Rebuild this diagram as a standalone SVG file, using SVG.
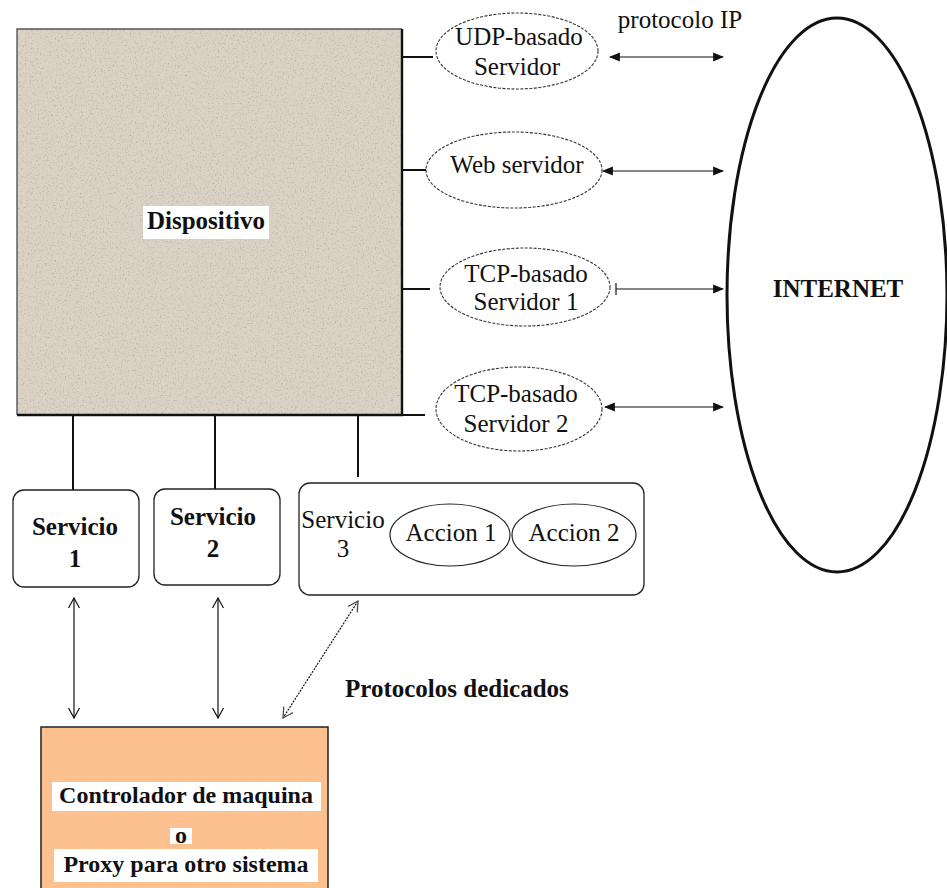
<svg xmlns="http://www.w3.org/2000/svg" width="947" height="888" viewBox="0 0 947 888" font-family="'Liberation Serif', 'Times New Roman', 'DejaVu Serif', serif">
  <style>
    text { font-family: 'Liberation Serif', 'Times New Roman', 'DejaVu Serif', serif; font-size: 25px; fill: #111; }
    .b { font-weight: bold; }
    .c { text-anchor: middle; }
    .sm { font-size: 24px; }
    .srv { fill: #fff; stroke: #333; stroke-width: 1.1; stroke-dasharray: 3 1.5; }
    .act { fill: #fff; stroke: #222; stroke-width: 1.2; }
    .box { fill: #fff; stroke: #222; stroke-width: 1.3; }
    .wire { stroke: #111; stroke-width: 2; fill: none; }
    .ip { stroke: #111; stroke-width: 1.2; fill: none; }
    .io { stroke: #111; stroke-width: 1.2; fill: none; }
    .lbl { fill: #fff; }
  </style>
  <defs>
    <!-- speckled stone finish for the device panel -->
    <filter id="grain" x="0" y="0" width="100%" height="100%">
      <feTurbulence type="fractalNoise" baseFrequency="0.6" numOctaves="2" seed="4" result="n"/>
      <feColorMatrix in="n" type="matrix" values="0 0 0 0 0.5  0 0 0 0 0.45  0 0 0 0 0.4  3 0 0 0 -1.6" result="d"/>
      <feComposite in="d" in2="SourceGraphic" operator="in" result="dots"/>
      <feMerge><feMergeNode in="SourceGraphic"/><feMergeNode in="dots"/></feMerge>
    </filter>
    <marker id="tri" viewBox="0 0 10 10" refX="9" refY="5" markerWidth="11" markerHeight="11" markerUnits="userSpaceOnUse" orient="auto-start-reverse">
      <path d="M0,1 L10,5 L0,9 z" fill="#111"/>
    </marker>
    <marker id="bar" viewBox="0 0 4 12" refX="1" refY="6" markerWidth="4" markerHeight="12" markerUnits="userSpaceOnUse" orient="auto">
      <path d="M1,0 V12" stroke="#111" stroke-width="1.2"/>
    </marker>
    <marker id="vee" viewBox="0 0 12 12" refX="11" refY="6" markerWidth="12" markerHeight="12" markerUnits="userSpaceOnUse" orient="auto-start-reverse">
      <path d="M1,0.5 L11,6 L1,11.5" fill="none" stroke="#111" stroke-width="1.2"/>
    </marker>
    <marker id="veeg" viewBox="0 0 12 12" refX="11" refY="6" markerWidth="12" markerHeight="12" markerUnits="userSpaceOnUse" orient="auto-start-reverse">
      <path d="M1,0.5 L11,6 L1,11.5" fill="none" stroke="#444" stroke-width="1.2"/>
    </marker>
  </defs>

  <rect width="947" height="888" fill="#fff"/>

  <!-- connectors -->
  <g id="connectors">
    <!-- device to servers -->
    <line class="wire" x1="402" y1="57" x2="433" y2="57" stroke-width="1.5"/>
    <line class="wire" x1="402" y1="170" x2="427" y2="170"/>
    <line class="wire" x1="402" y1="289" x2="430" y2="289"/>
    <line class="wire" x1="402" y1="415" x2="425" y2="415" stroke-width="1.5"/>
    <!-- servers to internet -->
    <line class="ip" x1="610" y1="57" x2="723" y2="57" marker-start="url(#tri)" marker-end="url(#tri)"/>
    <line class="ip" x1="603" y1="171" x2="723" y2="171" stroke-width="2.2" marker-start="url(#tri)" marker-end="url(#tri)"/>
    <line class="ip" x1="616" y1="289" x2="723" y2="289" marker-start="url(#bar)" marker-end="url(#tri)"/>
    <line class="ip" x1="605" y1="407" x2="723" y2="407" stroke-width="1.6" marker-start="url(#tri)" marker-end="url(#tri)"/>
    <!-- device to services -->
    <line class="wire" x1="73" y1="415" x2="73" y2="490" stroke-width="1.8"/>
    <line class="wire" x1="215" y1="415" x2="215" y2="489" stroke-width="1.8"/>
    <line class="wire" x1="358" y1="415" x2="358" y2="477" stroke-width="1.3"/>
    <!-- services to controller -->
    <line class="io" x1="74" y1="598" x2="74" y2="718" marker-start="url(#vee)" marker-end="url(#vee)"/>
    <line class="io" x1="218" y1="598" x2="218" y2="718" marker-start="url(#vee)" marker-end="url(#vee)"/>
    <line class="io" x1="358" y1="601" x2="283" y2="718" stroke="#444" stroke-dasharray="2 1.2" marker-start="url(#veeg)" marker-end="url(#veeg)"/>
  </g>

  <!-- device -->
  <g id="dispositivo">
    <rect x="17" y="29" width="385" height="386" fill="#dbd2c6" filter="url(#grain)"/>
    <path d="M17,415 V29 H402" fill="none" stroke="#555" stroke-width="1.4"/>
    <path d="M402,29 V415 H17" fill="none" stroke="#111" stroke-width="2.4"/>
    <rect class="lbl" x="143" y="206" width="126" height="33"/>
    <text class="b c" x="206" y="229">Dispositivo</text>
  </g>

  <!-- servers -->
  <g id="udp">
    <ellipse class="srv" cx="517" cy="51" rx="81" ry="38"/>
    <text class="c" x="519" y="45">UDP-basado</text>
    <text class="c" x="517" y="75">Servidor</text>
  </g>
  <g id="web">
    <ellipse class="srv" cx="514" cy="170" rx="88" ry="38"/>
    <text class="c" x="517" y="173">Web servidor</text>
  </g>
  <g id="tcp1">
    <ellipse class="srv" cx="525" cy="287" rx="85" ry="39"/>
    <text class="c" x="526" y="282">TCP-basado</text>
    <text class="c" x="526" y="310">Servidor 1</text>
  </g>
  <g id="tcp2">
    <ellipse class="srv" cx="519" cy="409" rx="83" ry="42"/>
    <text class="c" x="516" y="402">TCP-basado</text>
    <text class="c" x="516" y="432">Servidor 2</text>
  </g>

  <g id="protocolo-ip">
    <text class="c" x="680" y="28">protocolo IP</text>
  </g>

  <!-- internet -->
  <g id="internet">
    <ellipse cx="837" cy="295" rx="110" ry="277" fill="#fff" stroke="#111" stroke-width="3"/>
    <text class="b c" x="838" y="297">INTERNET</text>
  </g>

  <!-- services -->
  <g id="servicio1">
    <rect class="box" x="13" y="490" width="126" height="97" rx="11"/>
    <text class="b c" x="75" y="535">Servicio</text>
    <text class="b c" x="75" y="567">1</text>
  </g>
  <g id="servicio2">
    <rect class="box" x="154" y="489" width="126" height="96" rx="11"/>
    <text class="b c" x="213" y="525">Servicio</text>
    <text class="b c" x="213" y="557">2</text>
  </g>
  <g id="servicio3">
    <rect class="box" x="299" y="483" width="345" height="112" rx="11"/>
    <text class="c" x="343" y="528">Servicio</text>
    <text class="c" x="343" y="557">3</text>
    <g id="accion1">
      <ellipse class="act" cx="450" cy="535" rx="60" ry="31"/>
      <text class="c" x="451" y="541">Accion 1</text>
    </g>
    <g id="accion2">
      <ellipse class="act" cx="574" cy="535" rx="62" ry="31"/>
      <text class="c" x="574" y="541">Accion 2</text>
    </g>
  </g>

  <g id="protocolos-dedicados">
    <text class="b" x="345" y="697">Protocolos dedicados</text>
  </g>

  <!-- controller / proxy -->
  <g id="controlador">
    <rect x="41" y="727" width="287" height="175" fill="#fcc18e" stroke="#222" stroke-width="1.5"/>
    <rect class="lbl" x="52" y="782" width="269" height="29"/>
    <text class="b c sm" x="186" y="803">Controlador de maquina</text>
    <rect class="lbl" x="170" y="828" width="22" height="16"/>
    <text class="b c sm" x="181" y="843">o</text>
    <rect class="lbl" x="54" y="849" width="264" height="33"/>
    <text class="b c sm" x="186" y="872">Proxy para otro sistema</text>
  </g>
</svg>
